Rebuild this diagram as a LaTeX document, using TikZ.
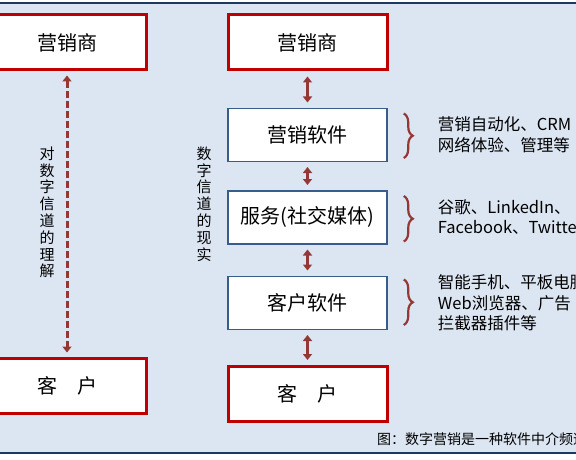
\documentclass[tikz,border=0pt]{standalone}
\usepackage{fontspec}
\setmainfont{Noto Sans CJK SC}
\usetikzlibrary{arrows.meta,positioning,calc,decorations.pathreplacing}
\definecolor{bgblue}{HTML}{DCE6F2}
\definecolor{rulenavy}{HTML}{1F3A60}
\definecolor{boxred}{HTML}{C00000}
\definecolor{boxblue}{HTML}{385D8A}
\definecolor{arrred}{HTML}{953735}
\tikzset{
  redbox/.style={draw=boxred, line width=3pt, fill=white, minimum width=159pt, minimum height=55pt, inner sep=0pt, font=\fontsize{20}{24}\selectfont},
  bluebox/.style={draw=boxblue, line width=1.5pt, fill=white, minimum width=159pt, minimum height=53pt, inner sep=0pt, font=\fontsize{20}{24}\selectfont},
  darr/.style={{Triangle[width=9pt,length=6pt]}-{Triangle[width=9pt,length=6pt]}, line width=2.5pt, draw=arrred, shorten >=5pt, shorten <=5pt},
  dasharr/.style={darr, line width=3pt, dash pattern=on 7pt off 3pt, shorten >=4pt, shorten <=4pt},
  brc/.style={draw=arrred, line width=2.2pt, decorate, decoration={brace, amplitude=9pt}},
  vtext/.style={align=center, inner sep=0pt, font=\fontsize{15}{16.8}\selectfont},
  note/.style={align=left, inner sep=0pt, font=\fontsize{16.5}{20.5}\selectfont},
  captext/.style={inner sep=0pt, font=\fontsize{14}{16}\selectfont}
}
\begin{document}
\begin{tikzpicture}[x=1pt,y=-1pt]
\useasboundingbox (0,0) rectangle (576,460);
\clip (0,0) rectangle (576,460);
% background and rules
\fill[bgblue] (0,3) rectangle (576,453);
\draw[rulenavy, line width=1.5pt] (0,3) -- (576,3);
\draw[rulenavy, line width=1.5pt] (0,453) -- (576,453);

% left column: understanding
\node[redbox] (m1) at (67,42.5) {营销商};
\node[redbox] (c1) at (67,385.5) {客　户};
\draw[dasharr] (m1) -- (c1);
\node[vtext] (lab1) at (47,212.5) {对\\数\\字\\信\\道\\的\\理\\解};

% right column: reality
\node[redbox] (m2) at (307.5,42.5) {营销商};
\node[bluebox, below=36pt of m2] (sw) {营销软件};
\node[bluebox, below=28pt of sw] (srv) {服务(社交媒体)};
\node[bluebox, below=31pt of srv] (csw) {客户软件};
\node[redbox, below=35pt of csw] (c2) {客　户};
\draw[darr] (m2) -- (sw);
\draw[darr] (sw) -- (srv);
\draw[darr] (srv) -- (csw);
\draw[darr] (csw) -- (c2);
\node[vtext] (lab2) at (204,204) {数\\字\\信\\道\\的\\现\\实};

% braces and notes
\draw[brc] ($(sw.north east)+(16,6)$) -- ($(sw.south east)+(16,-4)$);
\draw[brc] ($(srv.north east)+(16,6)$) -- ($(srv.south east)+(16,-3)$);
\draw[brc] ($(csw.north east)+(16,4)$) -- ($(csw.south east)+(16,-5)$);
\node[note, right=50pt of sw.east] (n1) {营销自动化、CRM\\网络体验、管理等};
\node[note, right=50pt of srv.east] (n2) {谷歌、LinkedIn、\\Facebook、Twitter};
\node[note, right=50pt of csw.east] (n3) {智能手机、平板电脑\\Web浏览器、广告\\拦截器插件等};

% caption
\node[captext, anchor=west] (cap) at (377,439) {图：数字营销是一种软件中介频道};
\end{tikzpicture}
\end{document}
